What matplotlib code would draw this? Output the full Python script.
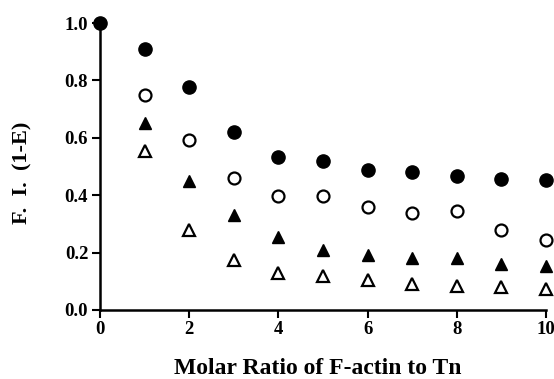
import matplotlib
matplotlib.use("Agg")
import matplotlib.pyplot as plt

x = [0, 1, 2, 3, 4, 5, 6, 7, 8, 9, 10]
x1 = [1, 2, 3, 4, 5, 6, 7, 8, 9, 10]
filled_circle = [1.0, 0.91, 0.776, 0.62, 0.534, 0.52, 0.487, 0.482, 0.466, 0.455, 0.453]
open_circle = [0.748, 0.593, 0.46, 0.397, 0.397, 0.358, 0.338, 0.345, 0.279, 0.245]
filled_tri = [0.652, 0.449, 0.33, 0.255, 0.21, 0.193, 0.18, 0.182, 0.162, 0.155]
open_tri = [0.553, 0.279, 0.174, 0.13, 0.117, 0.103, 0.09, 0.083, 0.08, 0.073]
xticks = [0, 2, 4, 6, 8, 10]
yticks = [0.0, 0.2, 0.4, 0.6, 0.8, 1.0]
xlabel = "Molar Ratio of F-actin to Tn"
ylabel = "F.  I.  (1-E)"

plt.rcParams['font.family'] = ['Liberation Serif', 'DejaVu Serif']
plt.rcParams['font.weight'] = 'bold'

W, H = 554, 379
fig = plt.figure(figsize=(W / 100, H / 100), dpi=100)
ax = fig.add_axes([100 / W, (H - 310) / H, 446 / W, 287 / H])

ax.plot(x, filled_circle, 'o', color='black', markersize=9.5, clip_on=False, zorder=3)
ax.plot(x1, open_circle, 'o', markerfacecolor='white', markeredgecolor='black',
        markeredgewidth=1.6, markersize=8.6, clip_on=False, zorder=3)
ax.plot(x1, filled_tri, '^', color='black', markersize=9, clip_on=False, zorder=3)
ax.plot(x1, open_tri, '^', markerfacecolor='white', markeredgecolor='black',
        markeredgewidth=1.6, markersize=8.2, clip_on=False, zorder=3)

ax.set_xlim(0, 10)
ax.set_ylim(0, 1.0)
ax.set_xticks(xticks)
ax.set_xticklabels([str(t) for t in xticks])
ax.set_yticks(yticks)
ax.set_yticklabels([f"{t:.1f}" for t in yticks])
for s in ['top', 'right']:
    ax.spines[s].set_visible(False)
for s in ['left', 'bottom']:
    ax.spines[s].set_linewidth(1.8)
ax.tick_params(direction='out', length=5.5, width=1.5, labelsize=13.5)
ax.tick_params(axis='x', pad=2.5)
ax.tick_params(axis='y', pad=3)
for lab in ax.get_xticklabels() + ax.get_yticklabels():
    lab.set_fontweight('bold')

# x label: scale font so its width matches the reference (~289 px)
xl = fig.text(317.5 / W, 1 - 373.5 / H, xlabel, ha='center', va='baseline',
              fontsize=14, fontweight='bold')
r = fig.canvas.get_renderer()
w = xl.get_window_extent(r).width
xl.set_fontsize(14 * 289 / w)

yl = fig.text(22 / W, 1 - 173 / H, ylabel, ha='center', va='center', rotation=90,
              fontsize=14, fontweight='bold')
h = yl.get_window_extent(r).height
yl.set_fontsize(min(16, 14 * 103 / h))

fig.savefig("out.png", dpi=100)
